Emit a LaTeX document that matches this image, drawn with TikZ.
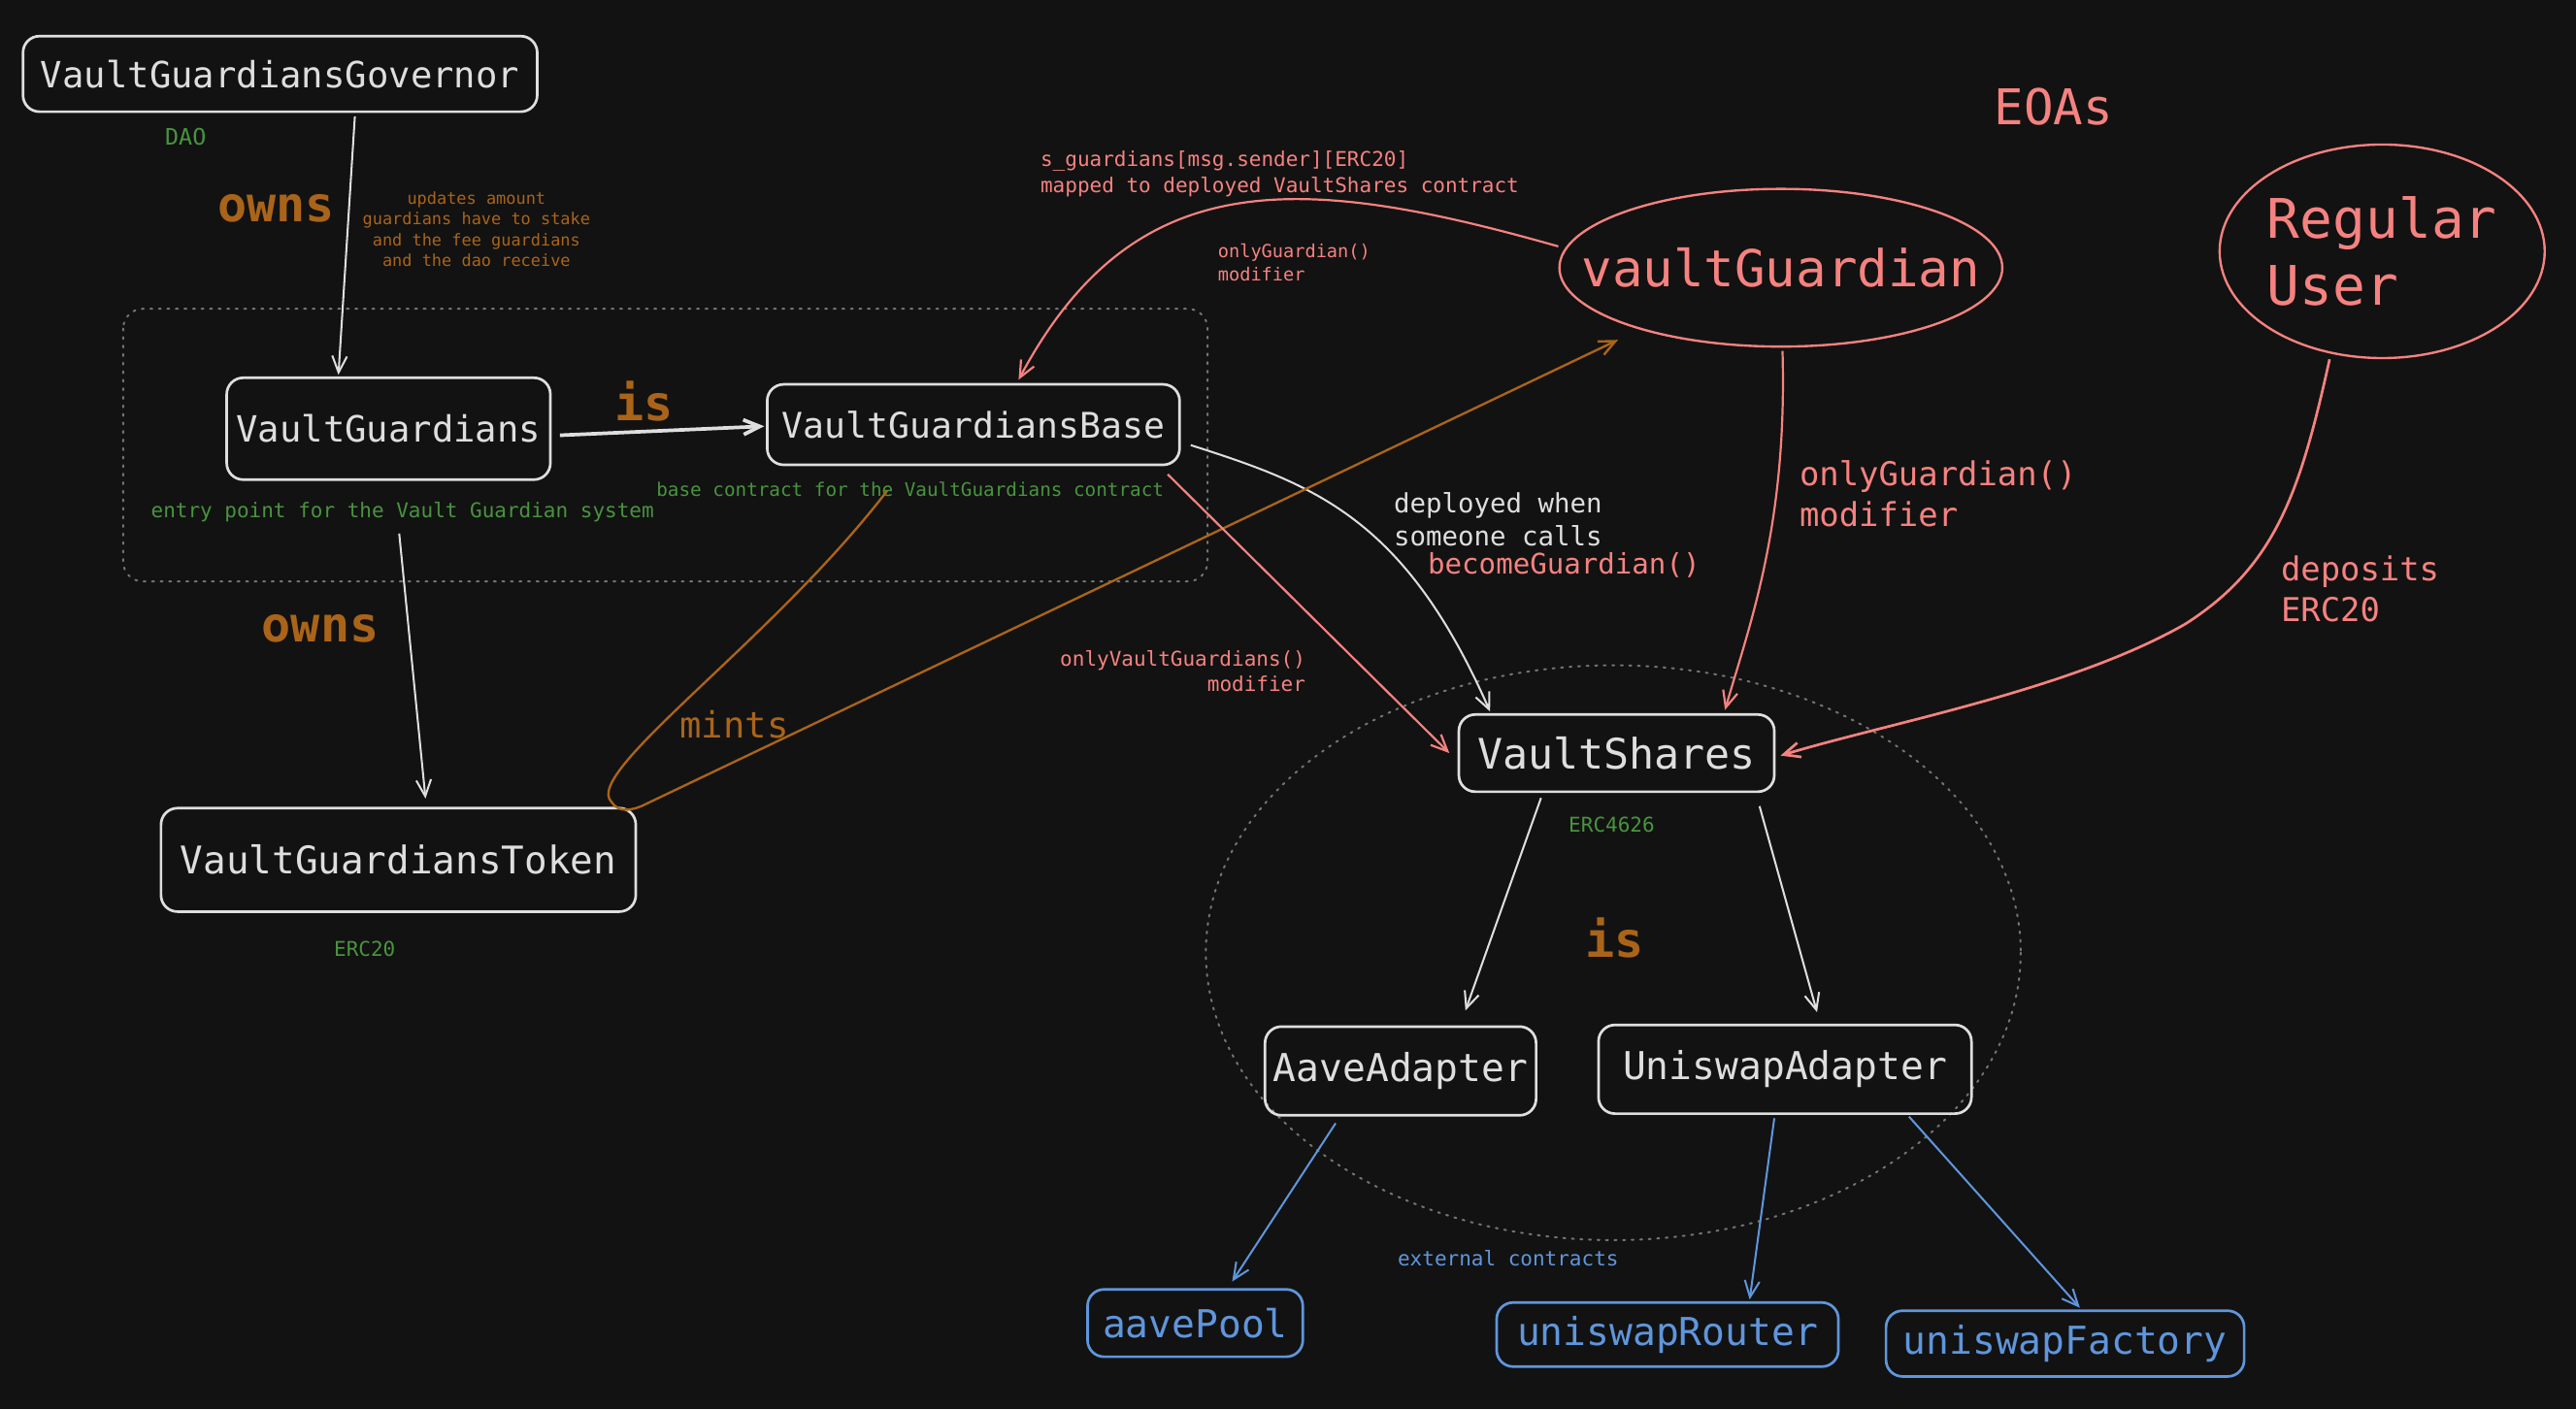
\documentclass[tikz,border=0pt]{standalone}
\usepackage{fontspec}
\setmainfont{DejaVu Sans Mono}
\usetikzlibrary{arrows.meta,shapes.geometric,calc}

\definecolor{bgcol}{RGB}{18,18,18}
\definecolor{ink}{RGB}{222,222,222}
\definecolor{salmon}{RGB}{246,130,128}
\definecolor{ochre}{RGB}{170,100,25}
\definecolor{leaf}{RGB}{72,148,62}
\definecolor{sky}{RGB}{95,150,220}
\definecolor{dots}{RGB}{115,115,115}

\begin{document}
\begin{tikzpicture}[x=0.5pt,y=0.5pt,yscale=-1,xscale=1,
	box/.style={draw=ink,line width=0.8pt,rounded corners=5pt,text=ink,inner sep=0pt,font=\fontsize{11}{13}\selectfont},
	extbox/.style={box,draw=sky,text=sky,font=\fontsize{11.7}{14}\selectfont},
	actor/.style={ellipse,draw=salmon,line width=0.7pt,text=salmon,inner sep=0pt},
	verb/.style={text=ochre,inner sep=0.5pt,font=\fontsize{14.8}{17}\selectfont\bfseries},
	note/.style={text=leaf,inner sep=0.5pt,font=\fontsize{6.2}{7.5}\selectfont},
	tip/.style={-{Straight Barb[length=5pt,width=4.5pt]}},
	link/.style={tip,draw=ink,line width=0.6pt},
	redlink/.style={tip,draw=salmon,line width=0.65pt},
	bluelink/.style={tip,draw=sky,line width=0.6pt}]

		% Background, sets the size of the page
		\fill[bgcol] (0,0) rectangle (1568,858);

		% Dotted group round the core contracts
		\draw[dots,dotted,line width=0.6pt,line cap=round,rounded corners=6pt] (75,188) rectangle (735,354);

		% Dotted ellipse round the vault and its adapters
		\draw[dots,dotted,line width=0.6pt,line cap=round] (982,580) ellipse [x radius=248,y radius=175];

		% Contracts
		\node[box,minimum width=156.5pt,minimum height=23pt] (gov) at (170.5,45) {VaultGuardiansGovernor};
		\node[box,minimum width=98.5pt,minimum height=31pt] (vg) at (236.5,261) {VaultGuardians};
		\node[box,minimum width=125.5pt,minimum height=24.5pt,font=\fontsize{10.75}{13}\selectfont] (vgbase) at (592.5,258.5) {VaultGuardiansBase};
		\node[box,minimum width=144.5pt,minimum height=31.5pt,font=\fontsize{11.6}{14}\selectfont] (token) at (242.5,523.5) {VaultGuardiansToken};
		\node[box,minimum width=96pt,minimum height=23.5pt,font=\fontsize{12.8}{15}\selectfont] (vshares) at (984,458.5) {VaultShares};
		\node[box,minimum width=82.5pt,minimum height=27pt,font=\fontsize{11.7}{14}\selectfont] (aave) at (852.5,652) {AaveAdapter};
		\node[box,minimum width=113.5pt,minimum height=27pt,font=\fontsize{11.7}{14}\selectfont] (uni) at (1086.5,651) {UniswapAdapter};

		% External contracts
		\node[extbox,minimum width=65.5pt,minimum height=20.5pt] (pool) at (727.5,805.5) {aavePool};
		\node[extbox,minimum width=104pt,minimum height=19.5pt] (router) at (1015,812.5) {uniswapRouter};
		\node[extbox,minimum width=109pt,minimum height=20pt] (factory) at (1257,818) {uniswapFactory};

		% EOAs
		\node[text=salmon,font=\fontsize{15}{18}\selectfont] (eoas) at (1250,65) {EOAs};
		\node[actor,inner xsep=-13pt,inner ysep=2pt,minimum width=134pt,minimum height=48pt,font=\fontsize{15.5}{18}\selectfont] (vguard) at (1084,163) {vaultGuardian};
		\node[actor,minimum width=97pt,minimum height=65pt,align=left,font=\fontsize{16.6}{20.5}\selectfont] (ruser) at (1450,153) {Regular\\User};

		% Green notes under the contracts
		\node[note,font=\fontsize{6.9}{8}\selectfont] (daoNote) at (113,83) {DAO};
		\node[note] (vgNote) at (245,312) {entry point for the Vault Guardian system};
		\node[note,font=\fontsize{5.7}{7}\selectfont] (baseNote) at (554,298) {base contract for the VaultGuardians contract};
		\node[note] (tokenNote) at (222,578) {ERC20};
		\node[note] (sharesNote) at (981,502) {ERC4626};
		\node[note,text=sky] (extNote) at (918,766) {external contracts};

		% Relation words
		\node[verb] (ownsGov) at (168,127) {owns};
		\node[verb] (isBase) at (392,244) {is};
		\node[verb] (ownsToken) at (195,383) {owns};
		\node[verb,font=\fontsize{11}{13}\selectfont] (mintsLbl) at (447,441) {mints};
		\node[verb] (isAdapters) at (983,571) {is};
		\node[text=ochre,inner sep=0pt,align=center,font=\fontsize{5}{6.25}\selectfont] (stakeNote) at (290,139.5) {updates amount\\guardians have to stake\\and the fee guardians\\and the dao receive};

		% Salmon labels
		\node[text=salmon,inner sep=0pt,anchor=west,align=left,font=\fontsize{6.2}{8}\selectfont] (mapNote) at (633,106) {s\_guardians[msg.sender][ERC20]\\mapped to deployed VaultShares contract};
		\node[text=salmon,inner sep=0pt,anchor=west,align=left,font=\fontsize{5.5}{7}\selectfont] (onlyGSmall) at (741,160) {onlyGuardian()\\modifier};
		\node[text=salmon,inner sep=0pt,anchor=east,align=right,font=\fontsize{6.2}{7.5}\selectfont] (onlyVG) at (795,408.5) {onlyVaultGuardians()\\modifier};
		\node[text=salmon,inner sep=0pt,anchor=west,align=left,font=\fontsize{10}{12.5}\selectfont] (onlyGBig) at (1095,300.5) {onlyGuardian()\\modifier};
		\node[text=salmon,inner sep=0pt,anchor=west,align=left,font=\fontsize{10}{12.5}\selectfont] (depLbl) at (1388,358.5) {deposits\\ERC20};
		\node[text=ink,inner sep=0pt,anchor=west,align=left,font=\fontsize{8.1}{10}\selectfont] (deployLbl) at (848,316) {deployed when\\someone calls};
		\node[text=salmon,inner sep=0pt,font=\fontsize{8.6}{10}\selectfont] (becomeLbl) at (952,344) {becomeGuardian()};

		% Ownership and inheritance arrows
		\draw[link] ($(gov.south)+(45.5,2)$) -- ($(vg.north)+(-30.5,-1)$);
		\draw[link,line width=1.1pt] ($(vg.east)+(5,4)$) -- ($(vgbase.west)+(-1,1)$);
		\draw[link] ($(vg.south)+(6.5,32)$) -- ($(token.north)+(16.5,-5)$);
		\draw[link] ($(vshares.south)+(-46,3)$) -- ($(aave.north)+(39.5,-9)$);
		\draw[link] ($(vshares.south)+(87,8)$) -- ($(uni.north)+(19.5,-7)$);

		% Deployment of the vault
		\draw[link] ($(vgbase.east)+(6,12.5)$) .. controls (800,295) and (855,315) .. ($(vshares.north)+(-77,-1)$);

		% Mints, looping past the token
		\draw[tip,draw=ochre,line width=0.7pt] ($(vgbase.south)+(-52.5,15)$) .. controls (470,390) and (355,470) .. (372,488) .. controls (376,494) and (382,494) .. (390,491) -- ($(vguard.204)+(-14,6)$);

		% Modifier arrows
		\draw[redlink] ($(vguard.west)+(0,-13)$) .. controls (790,105) and (690,100) .. ($(vgbase.north)+(27.5,-2)$);
		\draw[redlink] ($(vgbase.south east)+(-8,5)$) -- ($(vshares.west)+(-5,0)$);
		\draw[redlink] ($(vguard.south)+(1,2)$) .. controls (1088,320) and (1065,380) .. ($(vshares.north)+(66,-2)$);
		\draw[redlink,line width=0.8pt] ($(ruser.south)+(-32,0)$) .. controls (1400,300) and (1385,345) .. (1330,380) .. controls (1260,420) and (1150,440) .. ($(vshares.east)+(3,1.5)$);

		% Calls to external contracts
		\draw[bluelink] ($(aave.south)+(-39.5,4)$) -- ($(pool.north)+(22.5,-4)$);
		\draw[bluelink] ($(uni.south)+(-6.5,2)$) -- ($(router.north)+(50,-1)$);
		\draw[bluelink] ($(uni.south)+(75.5,1)$) -- ($(factory.north)+(9,-1)$);
	\end{tikzpicture}
\end{document}
